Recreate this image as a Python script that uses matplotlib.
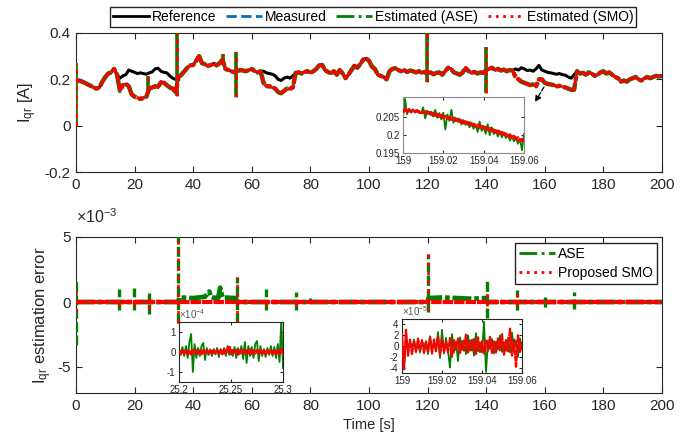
import numpy as np
import matplotlib
matplotlib.use("Agg")
import matplotlib.pyplot as plt
from matplotlib.lines import Line2D

plt.rcParams['font.family'] = ['Liberation Sans', 'DejaVu Sans']
plt.rcParams['axes.unicode_minus'] = False
plt.rcParams['mathtext.fontset'] = 'custom'
plt.rcParams['mathtext.rm'] = 'Liberation Sans'
plt.rcParams['mathtext.it'] = 'Liberation Sans'

# ---------------- data ----------------
# rotor q-axis current reference, 1 s resolution (A)
time_s = np.arange(0, 201, 1)
iqr_ref = [
    0.19, 0.195, 0.19, 0.185, 0.178, 0.172, 0.165, 0.16, 0.165, 0.19,
    0.21, 0.225, 0.23, 0.245, 0.22, 0.205, 0.215, 0.22, 0.24, 0.235,
    0.23, 0.225, 0.228, 0.225, 0.222, 0.228, 0.232, 0.245, 0.248, 0.235,
    0.23, 0.228, 0.215, 0.205, 0.2, 0.21, 0.22, 0.235, 0.25, 0.26,
    0.262, 0.28, 0.3, 0.27, 0.265, 0.258, 0.262, 0.268, 0.26, 0.27,
    0.285, 0.245, 0.24, 0.235, 0.23, 0.235, 0.24, 0.238, 0.235, 0.24,
    0.245, 0.235, 0.23, 0.235, 0.235, 0.228, 0.225, 0.222, 0.215, 0.2,
    0.195, 0.205, 0.21, 0.205, 0.215, 0.228, 0.23, 0.225, 0.232, 0.235,
    0.228, 0.235, 0.245, 0.26, 0.262, 0.24, 0.232, 0.225, 0.235, 0.22,
    0.24, 0.225, 0.205, 0.22, 0.24, 0.258, 0.25, 0.265, 0.285, 0.29,
    0.28, 0.255, 0.245, 0.22, 0.215, 0.21, 0.2, 0.235, 0.245, 0.248,
    0.24, 0.235, 0.24, 0.232, 0.238, 0.235, 0.23, 0.235, 0.228, 0.232,
    0.225, 0.23, 0.222, 0.228, 0.23, 0.22, 0.235, 0.25, 0.245, 0.23,
    0.225, 0.22, 0.23, 0.25, 0.235, 0.228, 0.232, 0.225, 0.23, 0.228,
    0.24, 0.245, 0.25, 0.24, 0.245, 0.238, 0.242, 0.235, 0.24, 0.238,
    0.245, 0.24, 0.25, 0.245, 0.238, 0.24, 0.235, 0.245, 0.26, 0.24,
    0.235, 0.23, 0.228, 0.225, 0.222, 0.225, 0.22, 0.218, 0.21, 0.205,
    0.22, 0.235, 0.225, 0.228, 0.22, 0.23, 0.225, 0.215, 0.22, 0.23,
    0.235, 0.225, 0.23, 0.22, 0.21, 0.205, 0.19, 0.195, 0.19, 0.2,
    0.205, 0.21, 0.2, 0.195, 0.205, 0.21, 0.205, 0.21, 0.215, 0.212,
    0.215,
]

# intervals where the measured / estimated current departs from the reference
dev1_t = np.arange(15, 35)
dev1_v = [0.15, 0.175, 0.18, 0.17, 0.135, 0.125, 0.12, 0.115, 0.12, 0.125,
          0.16, 0.165, 0.17, 0.165, 0.19, 0.185, 0.175, 0.165, 0.16, 0.145]
dev2_t = np.arange(64, 75)
dev2_v = [0.185, 0.17, 0.17, 0.165, 0.16, 0.145, 0.14, 0.15, 0.16, 0.158, 0.165]
dev3_t = np.arange(150, 171)
dev3_v = [0.21, 0.2, 0.19, 0.185, 0.18, 0.175, 0.178, 0.17, 0.2, 0.2, 0.185,
          0.18, 0.178, 0.175, 0.17, 0.172, 0.168, 0.165, 0.16, 0.155, 0.155]

# transients in the measured / estimated current (time, high, low)
spike_t = [0.0, 24.7, 34.6, 50.3, 54.5, 119.9, 139.9]
spike_hi = [0.27, 0.215, 0.42, 0.31, 0.32, 0.42, 0.34]
spike_lo = [0.0, 0.155, 0.13, 0.26, 0.125, 0.19, 0.14]

# ASE estimation error baseline (x1e-3 A)
ase_t = [0, 35, 35.2, 40, 44, 45.5, 46, 46.5, 48.5, 49.2, 50, 54.6, 54.8,
         120, 120.3, 125, 130, 135, 139.8, 140.2, 200]
ase_v = [0, 0, 0.35, 0.3, 0.4, 0.8, 0.4, 0.35, 0.3, 1.1, 0.35, 0.3, 0,
         0, 0.3, 0.35, 0.3, 0.25, 0.3, 0, 0]
smo_t = [0, 200]
smo_v = [0, 0]

# error transients (x1e-3 A)
ase_sp_t = [0, 14.8, 19.8, 24.9, 34.9, 54.8, 65, 75, 80, 120.2, 140.2, 150.4, 160, 170]
ase_sp_hi = [1.8, 1.0, 1.1, 0.7, 5.2, 1.9, 1.0, 0.8, 0.3, 3.7, 1.8, 0.9, 0.4, 0.8]
ase_sp_lo = [-3.3, -0.6, -0.6, -0.9, -1.6, -1.6, -0.6, -0.6, -0.1, -0.75, -1.2, -0.6, -0.4, -0.5]
smo_sp_t = [0, 14.8, 19.8, 24.9, 34.9, 54.8, 65, 75, 120.2, 140.2, 150.4]
smo_sp_hi = [0.9, 0.3, 0.4, 0.3, 5.2, 1.9, 0.3, 0.4, 3.7, 1.0, 0.6]
smo_sp_lo = [-0.8, -0.3, -0.3, -0.5, -1.6, -1.6, -0.3, -0.3, -0.6, -0.3, -0.3]

# zoomed current around t = 159 s (A)
zA_t = np.linspace(159.0, 159.06, 61)
zA_ase = [0.2048, 0.2102, 0.2058, 0.2074, 0.2066, 0.2072, 0.2063, 0.2070, 0.2064, 0.2061,
          0.2078, 0.2047, 0.2069, 0.2058, 0.2066, 0.2052, 0.2071, 0.2049, 0.2062, 0.2044,
          0.2063, 0.2016, 0.2058, 0.2040, 0.2071, 0.2035, 0.2049, 0.2038, 0.2046, 0.2030,
          0.2042, 0.2029, 0.2038, 0.2022, 0.2035, 0.2018, 0.2030, 0.2009, 0.2038, 0.2012,
          0.2026, 0.2004, 0.2031, 0.2000, 0.2022, 0.2003, 0.2015, 0.1996, 0.2012, 0.1994,
          0.2008, 0.1992, 0.2002, 0.1985, 0.1998, 0.1983, 0.1994, 0.1976, 0.1990, 0.1958,
          0.2003]
zA_smo = [0.2064, 0.2073, 0.2066, 0.2071, 0.2065, 0.2070, 0.2066, 0.2069, 0.2064, 0.2067,
          0.2063, 0.2066, 0.2061, 0.2064, 0.2058, 0.2062, 0.2055, 0.2059, 0.2052, 0.2056,
          0.2049, 0.2053, 0.2047, 0.2050, 0.2044, 0.2048, 0.2041, 0.2045, 0.2038, 0.2041,
          0.2034, 0.2038, 0.2031, 0.2035, 0.2028, 0.2031, 0.2025, 0.2029, 0.2021, 0.2025,
          0.2019, 0.2022, 0.2015, 0.2019, 0.2012, 0.2015, 0.2008, 0.2012, 0.2004, 0.2008,
          0.2001, 0.2004, 0.1997, 0.2001, 0.1993, 0.1997, 0.1989, 0.1993, 0.1984, 0.1988,
          0.1980]

# zoomed error around t = 25.25 s (x1e-4 A)
zB_t = np.linspace(25.2, 25.3, 61)
zB_ase = [0.2, -0.15, 0.25, -0.2, 0.3, -0.3, 0.5, 0.9, -1.0, 0.4, -0.3, 0.2, -0.2, 0.3,
          0.45, -0.4, 0.2, -0.15, 0.1, -0.2, 0.15, -0.1, 0.2, -0.25, 0.15, -0.1, 0.2, -0.2,
          0.3, -0.15, 0.1, -0.2, 0.25, -0.3, 0.2, -0.1, 0.3, -0.35, 0.5, -0.55, 0.3, -0.2,
          0.25, -0.3, 0.4, 0.55, -0.45, 0.3, -0.2, 0.15, -0.25, 0.2, -0.15, 0.3, -0.2, 0.25,
          -0.3, 0.4, -0.5, 1.6, -0.8]
zB_smo = [0.05, -0.08, 0.1, -0.06, 0.08, -0.1, 0.07, -0.12, 0.1, -0.05, 0.08, -0.07, 0.06,
          -0.1, 0.09, -0.06, 0.05, -0.08, 0.1, -0.07, 0.06, -0.09, 0.08, -0.05, 0.07, -0.1,
          0.12, -0.08, 0.15, 0.3, -0.1, 0.08, -0.06, 0.1, -0.12, 0.07, -0.05, 0.1, -0.08,
          0.06, -0.1, 0.12, -0.09, 0.07, -0.06, 0.1, -0.08, 0.05, -0.07, 0.09, -0.1, 0.06,
          -0.05, 0.08, -0.1, 0.07, -0.06, 0.1, -0.12, 0.15, -0.05]

# zoomed error around t = 159 s (x1e-5 A)
zC_t = np.linspace(159.0, 159.06, 61)
zC_ase = [0.5, -3.8, 2.0, -1.0, 0.8, -0.5, 1.2, -0.8, 0.6, -1.2, 1.0, -0.4, 0.9, -1.5, 1.8,
          -0.6, 0.7, -1.0, 2.6, -2.2, 3.0, -1.4, 1.5, -0.9, -4.0, 2.2, -1.2, 0.8, -2.8, 1.6,
          -0.7, 1.1, -1.5, 2.0, -0.9, 1.2, -1.8, 2.4, -1.0, 0.6, -1.2, 4.5, -4.8, 1.0, -0.5,
          1.3, -1.4, 0.8, -0.6, 2.0, -1.1, 0.7, -0.9, 1.5, -1.2, 2.5, -0.8, 1.0, -2.0, 1.4, -0.6]
zC_smo = [2.2, -4.5, 3.0, -1.8, 1.2, -1.5, 0.9, -1.1, 1.4, -0.8, 1.1, -1.3, 0.7, -1.0, 1.6,
          -1.4, 1.2, -0.9, 1.8, -1.6, 1.3, -1.1, 0.8, -1.2, 1.5, -2.0, 1.1, -0.7, 1.4, -1.3,
          0.9, -1.0, 2.1, -1.2, 1.0, -0.8, 1.3, -1.5, 1.6, -1.1, 0.9, -1.4, 1.2, -0.9, 1.7,
          -1.3, 1.0, -1.2, 1.4, -0.8, 2.2, -1.6, 1.1, -1.0, 3.2, -1.8, 1.2, -4.0, 2.0, -1.1, 0.8]

# ---------------- styles ----------------
C_REF = 'black'
C_MEAS = '#0072BD'
C_ASE = '#008000'
C_SMO = '#FF0000'
AX_COL = '#262626'
DENSE_DOT = (0, (2.5, 0.25))
DENSE_DASHDOT = (0, (4.0, 0.6, 1.0, 0.6))

est = np.array(iqr_ref, dtype=float)
est[dev1_t] = dev1_v
est[dev2_t] = dev2_v
est[dev3_t] = dev3_v

W, H = 681, 445
fig = plt.figure(figsize=(W / 100, H / 100), dpi=100)


def px_axes(x0, y0, x1, y1):
    return fig.add_axes([x0 / W, 1 - y1 / H, (x1 - x0) / W, (y1 - y0) / H])


def matlab_style(ax, size=11, length=4, pad=4):
    ax.tick_params(direction='in', top=True, right=True, length=length,
                   labelsize=size, colors=AX_COL, width=0.8, pad=pad)
    for s in ax.spines.values():
        s.set_color(AX_COL)
        s.set_linewidth(0.8)


# ---------------- top panel ----------------
ax1 = px_axes(76, 33, 662, 172)
ax1.plot(time_s, iqr_ref, color=C_REF, lw=2.2, zorder=2)
ax1.plot(time_s, est, color=C_MEAS, lw=2.0, ls='--', zorder=3)
ax1.plot(time_s, est, color=C_ASE, lw=3.2, ls=DENSE_DASHDOT, zorder=4)
ax1.plot(time_s, est, color=C_SMO, lw=2.4, ls=DENSE_DOT, zorder=5)
ax1.vlines(spike_t, spike_lo, spike_hi, color=C_ASE, lw=2.6, zorder=4)
ax1.vlines(spike_t, spike_lo, spike_hi, color=C_SMO, lw=1.8, linestyles=(0, (2, 1.5)), zorder=5)
ax1.set_xlim(0, 200)
ax1.set_ylim(-0.2, 0.4)
ax1.set_xticks(np.arange(0, 201, 20))
ax1.set_yticks([-0.2, 0, 0.2, 0.4])
ax1.set_yticklabels(['-0.2', '0', '0.2', '0.4'])
matlab_style(ax1)
ax1.set_ylabel('I$_{qr}$ [A]', fontsize=12, color=AX_COL, labelpad=4)

handles = [Line2D([], [], color=C_REF, lw=2),
           Line2D([], [], color=C_MEAS, lw=2, ls='--'),
           Line2D([], [], color=C_ASE, lw=2, ls='-.'),
           Line2D([], [], color=C_SMO, lw=2, ls=':')]
fig.legend(handles, ['Reference', 'Measured', 'Estimated (ASE)', 'Estimated (SMO)'],
           loc='center', bbox_to_anchor=(373 / W, 1 - 17 / H), ncol=4, fontsize=10,
           frameon=True, fancybox=False, edgecolor=AX_COL, handlelength=2.6,
           handletextpad=0.2, columnspacing=0.7, borderpad=0.2, framealpha=1)

# inset of the current
axA = px_axes(403, 97, 524, 153)
axA.plot(zA_t, zA_ase, color=C_ASE, lw=1.3, zorder=2)
axA.plot(zA_t, zA_smo, color=C_SMO, lw=2.2, ls=DENSE_DOT, zorder=3)
axA.set_xlim(159, 159.06)
axA.set_ylim(0.195, 0.2107)
axA.set_xticks([159, 159.02, 159.04, 159.06])
axA.set_xticklabels(['159', '159.02', '159.04', '159.06'])
axA.set_yticks([0.195, 0.2, 0.205])
axA.set_yticklabels(['0.195', '0.2', '0.205'])
matlab_style(axA, size=7, length=2.5, pad=2.5)
for s in axA.spines.values():
    s.set_color('#8c8c8c')

# ---------------- bottom panel ----------------
ax2 = px_axes(76, 237, 662, 393)
ax2.plot(ase_t, ase_v, color=C_ASE, lw=3.4, ls=DENSE_DASHDOT, zorder=3)
ax2.plot(smo_t, smo_v, color=C_SMO, lw=3.0, ls=DENSE_DOT, zorder=4)
ax2.vlines(ase_sp_t, ase_sp_lo, ase_sp_hi, color=C_ASE, lw=2.4,
           linestyles=(0, (3, 1)), zorder=3)
ax2.vlines(smo_sp_t, smo_sp_lo, smo_sp_hi, color=C_SMO, lw=1.8,
           linestyles=(0, (1.5, 2)), zorder=4)
ax2.set_xlim(0, 200)
ax2.set_ylim(-7, 5)
ax2.set_xticks(np.arange(0, 201, 20))
ax2.set_yticks([-5, 0, 5])
matlab_style(ax2)
ax2.set_xlabel('Time [s]', fontsize=10.5, color=AX_COL, labelpad=4)
ax2.set_ylabel('I$_{qr}$ estimation error', fontsize=12, color=AX_COL, labelpad=2)
ax2.text(0.0, 1.07, r'$\times$10$^{-3}$', transform=ax2.transAxes, fontsize=11.5,
         color=AX_COL, ha='left', va='bottom')

h2 = [Line2D([], [], color=C_ASE, lw=2, ls='-.'),
      Line2D([], [], color=C_SMO, lw=2, ls=':')]
ax2.legend(h2, ['ASE', 'Proposed SMO'], loc='upper right', fontsize=10,
           frameon=True, fancybox=False, edgecolor=AX_COL, handlelength=2.6,
           handletextpad=0.2, borderpad=0.3, framealpha=1, labelspacing=0.35,
           bbox_to_anchor=(657 / W, 1 - 243 / H), bbox_transform=fig.transFigure,
           borderaxespad=0)

# inset of the error near 25.25 s
axB = px_axes(179, 322, 283, 382)
axB.plot(zB_t, zB_ase, color=C_ASE, lw=1.3, zorder=2)
axB.plot(zB_t, zB_smo, color=C_SMO, lw=2.0, ls=DENSE_DOT, zorder=3)
axB.set_xlim(25.2, 25.3)
axB.set_ylim(-1.5, 1.5)
axB.set_xticks([25.2, 25.25, 25.3])
axB.set_xticklabels(['25.2', '25.25', '25.3'])
axB.set_yticks([-1, 0, 1])
matlab_style(axB, size=7, length=2.5, pad=2.5)
axB.text(0.0, 1.01, r'$\times$10$^{-4}$', transform=axB.transAxes, fontsize=7,
         color='#555555', ha='left', va='bottom')

# inset of the error near 159 s
axC = px_axes(402, 319, 522, 373)
axC.plot(zC_t, zC_ase, color=C_ASE, lw=1.3, zorder=2)
axC.plot(zC_t, zC_smo, color=C_SMO, lw=1.6, ls=DENSE_DOT, zorder=3)
axC.set_xlim(159, 159.06)
axC.set_ylim(-5, 5)
axC.set_xticks([159, 159.02, 159.04, 159.06])
axC.set_xticklabels(['159', '159.02', '159.04', '159.06'])
axC.set_yticks([-4, -2, 0, 2, 4])
matlab_style(axC, size=7, length=2.5, pad=2.5)
axC.text(0.0, 1.01, r'$\times$10$^{-5}$', transform=axC.transAxes, fontsize=7,
         color='#555555', ha='left', va='bottom')

# pointers to the zoomed regions
arrow = dict(arrowstyle='-|>', linestyle='--', color='black', lw=0.9,
             mutation_scale=9, shrinkA=0, shrinkB=0)
for (x0, y0), (x1, y1) in [((544, 87), (535, 102)),
                           ((152, 302), (172, 323)),
                           ((547, 304), (536, 317))]:
    ax1.annotate('', xy=(x1, H - y1), xytext=(x0, H - y0),
                 xycoords='figure pixels', textcoords='figure pixels',
                 arrowprops=arrow, annotation_clip=False)

fig.savefig('out.png', dpi=100)
